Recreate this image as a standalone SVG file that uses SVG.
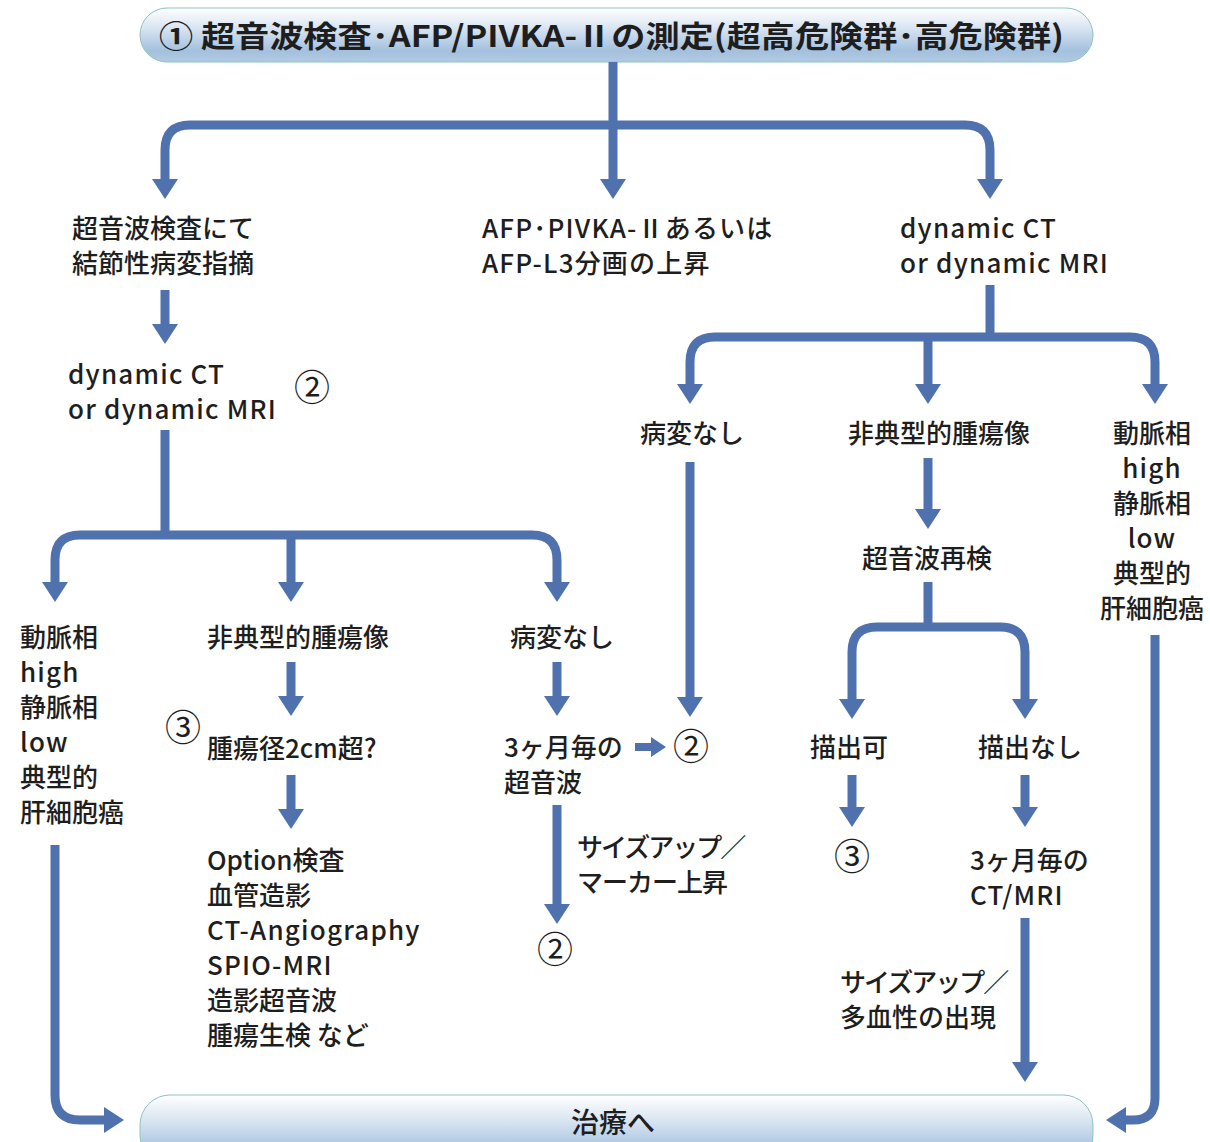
<svg xmlns="http://www.w3.org/2000/svg" width="1210" height="1142" viewBox="0 0 1210 1142">
<defs>
<linearGradient id="pill" x1="0" y1="0" x2="0" y2="1">
<stop offset="0" stop-color="#ffffff"/>
<stop offset="0.35" stop-color="#dbe6f2"/>
<stop offset="0.8" stop-color="#a3c0de"/>
<stop offset="1" stop-color="#b3cbe3"/>
</linearGradient>
<marker id="ah" viewBox="0 0 20 26" refX="1" refY="13" markerWidth="20" markerHeight="26" markerUnits="userSpaceOnUse" orient="auto">
<path d="M0,0 L20,13 L0,26 Z" fill="#4f72ae"/>
</marker>
<style>
.c{fill:none;stroke:#4f72ae;stroke-width:9}
.a{marker-end:url(#ah)}
text{font-family:"Noto Sans CJK JP","Noto Sans",sans-serif;font-size:26px;fill:#1e1e1e;font-weight:500}
.m{text-anchor:middle}
.l{letter-spacing:1.2px}
.n{font-size:36px;font-weight:400}
.t{font-weight:700;font-size:30px}
.pill{fill:url(#pill);stroke:#8fc3b8;stroke-width:1}
</style>
</defs>
<g id="start">
<rect class="pill" x="140" y="8" width="953" height="54" rx="27"/>
<text class="t" x="159" y="47" textLength="905" lengthAdjust="spacingAndGlyphs">① 超音波検査･AFP/PIVKA-Ⅱの測定(超高危険群･高危険群)</text>
</g>
<g id="end">
<rect class="pill" x="140" y="1095" width="953" height="70" rx="30"/>
<text class="m" x="613" y="1133" style="font-size:28px">治療へ</text>
</g>
<g id="connectors">
<path class="c a" d="M613,62 V180"/>
<path class="c a" d="M613,125 H190 Q165,125 165,150 V180"/>
<path class="c a" d="M613,125 H965 Q990,125 990,150 V180"/>
<path class="c a" d="M165,290 V325"/>
<path class="c" d="M165,430 V535"/>
<path class="c a" d="M165,535 H80 Q55,535 55,560 V583"/>
<path class="c a" d="M165,535 H532 Q557,535 557,560 V583"/>
<path class="c a" d="M291,535 V583"/>
<path class="c a" d="M55,845 V1095 Q55,1120 80,1120 H105"/>
<path class="c a" d="M291,662 V697"/>
<path class="c a" d="M291,775 V810"/>
<path class="c a" d="M557,662 V697"/>
<path class="c a" d="M557,805 V905"/>
<path d="M635,743 H651 V737 L666,747 L651,757 V751 H635 Z" fill="#4f72ae"/>
<path class="c" d="M990,285 V337"/>
<path class="c a" d="M990,337 H715 Q690,337 690,362 V385"/>
<path class="c a" d="M990,337 H1130 Q1155,337 1155,362 V385"/>
<path class="c a" d="M928,337 V385"/>
<path class="c a" d="M690,462 V698"/>
<path class="c a" d="M928,458 V510"/>
<path class="c" d="M928,582 V627"/>
<path class="c a" d="M928,627 H877 Q852,627 852,652 V700"/>
<path class="c a" d="M928,627 H1000 Q1025,627 1025,652 V700"/>
<path class="c a" d="M852,775 V808"/>
<path class="c a" d="M1025,775 V808"/>
<path class="c a" d="M1025,918 V1063"/>
<path class="c a" d="M1155,635 V1098 Q1155,1120 1133,1120 H1125"/>
</g>
<g id="n-us"><text x="72" y="238">超音波検査にて</text><text x="72" y="273">結節性病変指摘</text></g>
<g id="n-marker"><text x="482" y="238" class="l">AFP･PIVKA-Ⅱあるいは</text><text x="482" y="273" class="l">AFP-L3分画の上昇</text></g>
<g id="n-dyn1"><text x="900" y="238" class="l">dynamic CT</text><text x="900" y="273" class="l">or dynamic MRI</text></g>
<g id="n-dyn2"><text x="68" y="384" class="l">dynamic CT</text><text x="68" y="419" class="l">or dynamic MRI</text><text class="m n" x="312" y="401">②</text></g>
<g id="n-typ-l"><text x="20" y="647">動脈相</text><text x="20" y="682" class="l">high</text><text x="20" y="717">静脈相</text><text x="20" y="752" class="l">low</text><text x="20" y="787">典型的</text><text x="20" y="822">肝細胞癌</text></g>
<g id="n-atyp-l"><text x="207" y="647">非典型的腫瘍像</text></g>
<g id="n-size"><text class="m n" x="183" y="741">③</text><text x="207" y="758">腫瘍径2cm超?</text></g>
<g id="n-option"><text x="207" y="870">Option検査</text><text x="207" y="905">血管造影</text><text x="207" y="940" class="l">CT-Angiography</text><text x="207" y="975" class="l">SPIO-MRI</text><text x="207" y="1010">造影超音波</text><text x="207" y="1045">腫瘍生検 など</text></g>
<g id="n-none-l"><text x="510" y="647">病変なし</text></g>
<g id="n-3m-us"><text x="504" y="757">3ヶ月毎の</text><text x="504" y="792">超音波</text><text class="m n" x="691" y="760">②</text></g>
<g id="n-sizeup1"><text x="577" y="857" style="letter-spacing:-2px">サイズアップ／</text><text x="577" y="892" style="letter-spacing:-1px">マーカー上昇</text></g>
<g id="n-2b"><text class="m n" x="555" y="963">②</text></g>
<g id="n-none-r"><text x="640" y="443">病変なし</text></g>
<g id="n-atyp-r"><text x="848" y="443">非典型的腫瘍像</text></g>
<g id="n-typ-r"><text class="m" x="1152" y="443">動脈相</text><text class="m l" x="1152" y="478">high</text><text class="m" x="1152" y="513">静脈相</text><text class="m l" x="1152" y="548">low</text><text class="m" x="1152" y="583">典型的</text><text class="m" x="1152" y="618">肝細胞癌</text></g>
<g id="n-recheck"><text x="862" y="568">超音波再検</text></g>
<g id="n-visible"><text x="810" y="757">描出可</text></g>
<g id="n-invisible"><text x="978" y="757">描出なし</text></g>
<g id="n-3c"><text class="m n" x="852" y="870">③</text></g>
<g id="n-3m-ct"><text x="970" y="870">3ヶ月毎の</text><text x="970" y="905" class="l">CT/MRI</text></g>
<g id="n-sizeup2"><text x="840" y="992" style="letter-spacing:-2px">サイズアップ／</text><text x="840" y="1027">多血性の出現</text></g>
</svg>
